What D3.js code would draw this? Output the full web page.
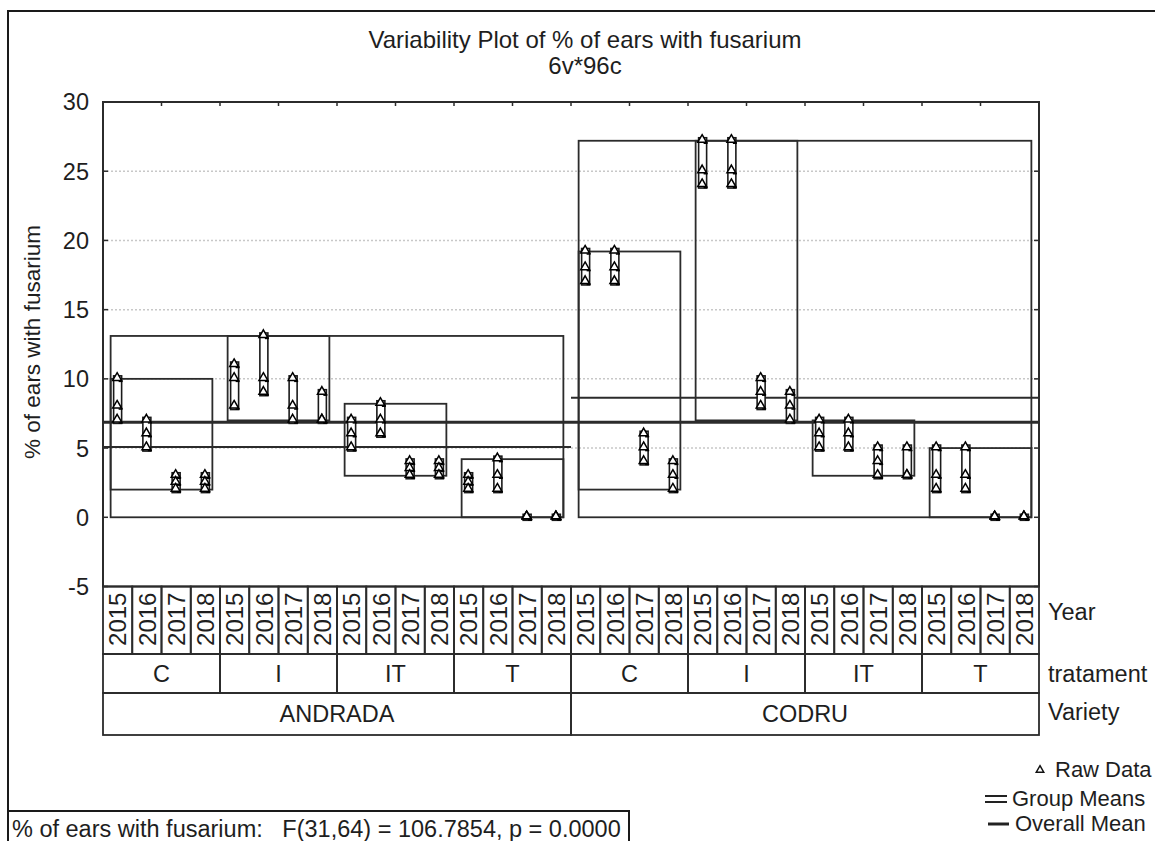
<!DOCTYPE html>
<html>
<head>
<meta charset="utf-8">
<script src="https://cdn.jsdelivr.net/npm/d3@7"></script>
<style>
  html, body { margin: 0; padding: 0; background: #fff; }
  svg { display: block; font-family: "Liberation Sans", Arial, sans-serif; }
</style>
</head>
<body>
<svg id="chart" width="1155" height="841"></svg>
<script>
// ---- data -------------------------------------------------------------
const years = ["2015", "2016", "2017", "2018"];
const treatments = ["C", "I", "IT", "T"];
const varieties = ["ANDRADA", "CODRU"];
const yTicks = [-5, 0, 5, 10, 15, 20, 25, 30];

// three replicate readings per year, in treatment order C, I, IT, T
const andradaRaw = [
  [10, 8, 7], [7, 6, 5], [3, 2.5, 2], [3, 2.5, 2],
  [11, 10, 8], [13.1, 10, 9], [10, 8, 7], [9, 7, 7],
  [7, 6, 5], [8.2, 7, 6], [4, 3.5, 3], [4, 3.5, 3],
  [3, 2.5, 2], [4.2, 3, 2], [0, 0, 0], [0, 0, 0]
];
const codruRaw = [
  [19.2, 18, 17], [19.2, 18, 17], [6, 5, 4], [4, 3, 2],
  [27.2, 25, 24], [27.2, 25, 24], [10, 9, 8], [9, 8, 7],
  [7, 6, 5], [7, 6, 5], [5, 4, 3], [5, 3, 3],
  [5, 3, 2], [5, 3, 2], [0, 0, 0], [0, 0, 0]
];

const statText = "% of ears with fusarium:   F(31,64) = 106.7854, p = 0.0000";

// ---- build cells ------------------------------------------------------
const rawByVariety = { ANDRADA: andradaRaw, CODRU: codruRaw };
const cells = [];
varieties.forEach(v => {
  treatments.forEach((t, ti) => {
    years.forEach((yr, yi) => {
      cells.push({ variety: v, treatment: t, year: yr,
                   key: v + "|" + t + "|" + yr,
                   values: rawByVariety[v][ti * 4 + yi] });
    });
  });
});

const svg = d3.select("#chart");
const plot = { left: 103, right: 1039, top: 102, bottom: 586.5 };
const FS = 23.5;

const x = d3.scaleBand().domain(cells.map(c => c.key)).range([plot.left, plot.right]).padding(0);
const y = d3.scaleLinear().domain([-5, 30]).range([plot.bottom, plot.top]);
const cx = k => x(k) + x.bandwidth() / 2;

const ink = "#2b2b2b";
const txt = "#1e1e1e";

// outer frame
svg.append("rect").attr("x", 8).attr("y", 11).attr("width", 1200).attr("height", 900)
  .attr("fill", "#fff").attr("stroke", "#1a1a1a").attr("stroke-width", 2);

// titles
svg.append("text").attr("x", 585).attr("y", 48).attr("text-anchor", "middle")
  .attr("font-size", 24).attr("fill", txt).text("Variability Plot of % of ears with fusarium");
svg.append("text").attr("x", 585).attr("y", 74).attr("text-anchor", "middle")
  .attr("font-size", 24).attr("fill", txt).text("6v*96c");

// gridlines
svg.append("g").selectAll("line").data(yTicks.filter(d => d > 0 && d < 30)).join("line")
  .attr("x1", plot.left).attr("x2", plot.right)
  .attr("y1", d => y(d)).attr("y2", d => y(d))
  .attr("stroke", "#c8c8c8").attr("stroke-width", 1.5).attr("stroke-dasharray", "2,2");

// y axis labels and ticks
const yAxisG = svg.append("g");
yAxisG.selectAll("text").data(yTicks).join("text")
  .attr("x", 89).attr("y", d => y(d)).attr("dy", "0.36em")
  .attr("text-anchor", "end").attr("font-size", FS).attr("fill", txt).text(d => d);
yAxisG.selectAll("line.l").data(yTicks).join("line").attr("class", "l")
  .attr("x1", plot.left).attr("x2", plot.left + 5)
  .attr("y1", d => y(d)).attr("y2", d => y(d)).attr("stroke", ink).attr("stroke-width", 1.5);
yAxisG.selectAll("line.r").data(yTicks).join("line").attr("class", "r")
  .attr("x1", plot.right).attr("x2", plot.right - 5)
  .attr("y1", d => y(d)).attr("y2", d => y(d)).attr("stroke", ink).attr("stroke-width", 1.5);
// top ticks every second cell
svg.append("g").selectAll("line").data(cells.filter((c, i) => i % 2 === 0 && i > 0)).join("line")
  .attr("x1", c => x(c.key)).attr("x2", c => x(c.key))
  .attr("y1", plot.top).attr("y2", plot.top + 4).attr("stroke", ink).attr("stroke-width", 1.5);

svg.append("text").attr("transform", "translate(32,342) rotate(-90)")
  .attr("text-anchor", "middle").attr("dy", "0.36em").attr("font-size", 22.5).attr("fill", txt)
  .text("% of ears with fusarium");

// ---- range boxes --------------------------------------------------------
const pad = 7;
function boxFor(sub) {
  const all = sub.flatMap(c => c.values);
  return { x0: cx(sub[0].key) - pad, x1: cx(sub[sub.length - 1].key) + pad,
           lo: d3.min(all), hi: d3.max(all) };
}
const boxes = [];
varieties.forEach(v => {
  boxes.push(boxFor(cells.filter(c => c.variety === v)));
  treatments.forEach(t => boxes.push(boxFor(cells.filter(c => c.variety === v && c.treatment === t))));
});
svg.append("g").selectAll("rect").data(boxes).join("rect")
  .attr("x", b => b.x0).attr("width", b => b.x1 - b.x0)
  .attr("y", b => y(b.hi)).attr("height", b => y(b.lo) - y(b.hi))
  .attr("fill", "none").attr("stroke", ink).attr("stroke-width", 1.8);

// ---- means ---------------------------------------------------------------
const cellMean = c => d3.mean(c.values);
const varietyMeans = varieties.map(v => {
  const sub = cells.filter(c => c.variety === v);
  return { v, mean: d3.mean(sub, cellMean), x0: x(sub[0].key), x1: x(sub[sub.length - 1].key) + x.bandwidth() };
});
const overallMean = d3.mean(cells, cellMean);
svg.append("g").selectAll("line").data(varietyMeans).join("line")
  .attr("x1", d => d.x0).attr("x2", d => d.x1)
  .attr("y1", d => y(d.mean)).attr("y2", d => y(d.mean))
  .attr("stroke", ink).attr("stroke-width", 2);
svg.append("line").attr("x1", plot.left).attr("x2", plot.right)
  .attr("y1", y(overallMean)).attr("y2", y(overallMean))
  .attr("stroke", ink).attr("stroke-width", 3);

// ---- raw data glyphs ---------------------------------------------------
const raw = svg.append("g");
const tri = d3.symbol().type(d3.symbolTriangle).size(34);
cells.forEach(c => {
  const lo = d3.min(c.values), hi = d3.max(c.values);
  raw.append("rect").attr("x", cx(c.key) - 4).attr("width", 8)
    .attr("y", y(hi) - 3).attr("height", y(lo) - y(hi) + 6)
    .attr("fill", "#fff").attr("stroke", "#1a1a1a").attr("stroke-width", 1.6);
  c.values.forEach(v => {
    raw.append("path").attr("d", tri)
      .attr("transform", `translate(${cx(c.key) - 0.5},${y(v) - 1})`)
      .attr("fill", "#fff").attr("stroke", "#000").attr("stroke-width", 1.5);
    raw.append("line").attr("x1", cx(c.key) + 1).attr("x2", cx(c.key) + 5)
      .attr("y1", y(v) + 2.5).attr("y2", y(v) + 2.5).attr("stroke", "#000").attr("stroke-width", 1.5);
  });
});

// plot frame
svg.append("rect").attr("x", plot.left).attr("y", plot.top)
  .attr("width", plot.right - plot.left).attr("height", plot.bottom - plot.top)
  .attr("fill", "none").attr("stroke", ink).attr("stroke-width", 2);

// ---- category table ------------------------------------------------------
const rows = { yearTop: plot.bottom, trtTop: 654, varTop: 693, bottom: 735 };
const table = svg.append("g");
table.selectAll("rect.yr").data(cells).join("rect").attr("class", "yr")
  .attr("x", c => x(c.key)).attr("width", x.bandwidth())
  .attr("y", rows.yearTop).attr("height", rows.trtTop - rows.yearTop)
  .attr("fill", "none").attr("stroke", ink).attr("stroke-width", 1.8);
table.selectAll("text.yr").data(cells).join("text").attr("class", "yr")
  .attr("transform", c => `translate(${cx(c.key)},${(rows.yearTop + rows.trtTop) / 2 - 1}) rotate(-90)`)
  .attr("text-anchor", "middle").attr("dy", "0.36em").attr("font-size", 24).attr("fill", txt)
  .text(c => c.year);
const trtGroups = [];
varieties.forEach(v => treatments.forEach(t => {
  const sub = cells.filter(c => c.variety === v && c.treatment === t);
  trtGroups.push({ t, x0: x(sub[0].key), x1: x(sub[3].key) + x.bandwidth() });
}));
table.selectAll("rect.tr").data(trtGroups).join("rect").attr("class", "tr")
  .attr("x", d => d.x0).attr("width", d => d.x1 - d.x0)
  .attr("y", rows.trtTop).attr("height", rows.varTop - rows.trtTop)
  .attr("fill", "none").attr("stroke", ink).attr("stroke-width", 1.8);
table.selectAll("text.tr").data(trtGroups).join("text").attr("class", "tr")
  .attr("x", d => (d.x0 + d.x1) / 2).attr("y", (rows.trtTop + rows.varTop) / 2).attr("dy", "0.36em")
  .attr("text-anchor", "middle").attr("font-size", FS).attr("fill", txt).text(d => d.t);
table.selectAll("rect.vr").data(varietyMeans).join("rect").attr("class", "vr")
  .attr("x", d => d.x0).attr("width", d => d.x1 - d.x0)
  .attr("y", rows.varTop).attr("height", rows.bottom - rows.varTop)
  .attr("fill", "none").attr("stroke", ink).attr("stroke-width", 1.8);
table.selectAll("text.vr").data(varietyMeans).join("text").attr("class", "vr")
  .attr("x", d => (d.x0 + d.x1) / 2).attr("y", (rows.varTop + rows.bottom) / 2).attr("dy", "0.36em")
  .attr("text-anchor", "middle").attr("font-size", FS).attr("fill", txt).text(d => d.v);
const rowNames = [["Year", 620], ["tratament", 682], ["Variety", 720]];
table.selectAll("text.rn").data(rowNames).join("text").attr("class", "rn")
  .attr("x", 1048).attr("y", d => d[1]).attr("font-size", FS).attr("fill", txt).text(d => d[0]);

// ---- legend ------------------------------------------------------------
const LFS = 22;
const lg = svg.append("g");
lg.append("path").attr("d", d3.symbol().type(d3.symbolTriangle).size(24))
  .attr("transform", "translate(1040,770)").attr("fill", "#fff").attr("stroke", "#111").attr("stroke-width", 1.5);
lg.append("text").attr("x", 1055).attr("y", 777).attr("font-size", LFS).attr("fill", txt).text("Raw Data");
lg.append("line").attr("x1", 985).attr("x2", 1007).attr("y1", 796).attr("y2", 796).attr("stroke", "#222").attr("stroke-width", 2);
lg.append("line").attr("x1", 985).attr("x2", 1007).attr("y1", 802).attr("y2", 802).attr("stroke", "#222").attr("stroke-width", 2);
lg.append("text").attr("x", 1012).attr("y", 806).attr("font-size", LFS).attr("fill", txt).text("Group Means");
lg.append("line").attr("x1", 988).attr("x2", 1009).attr("y1", 824).attr("y2", 824).attr("stroke", "#222").attr("stroke-width", 3);
lg.append("text").attr("x", 1015).attr("y", 831).attr("font-size", LFS).attr("fill", txt).text("Overall Mean");

// ---- statistics box -------------------------------------------------------
svg.append("rect").attr("x", 8).attr("y", 811).attr("width", 621).attr("height", 60)
  .attr("fill", "#fff").attr("stroke", "#1a1a1a").attr("stroke-width", 2);
svg.append("text").attr("x", 12).attr("y", 837).attr("font-size", FS).attr("fill", txt)
  .attr("xml:space", "preserve").style("white-space", "pre").text(statText);
</script>
</body>
</html>
